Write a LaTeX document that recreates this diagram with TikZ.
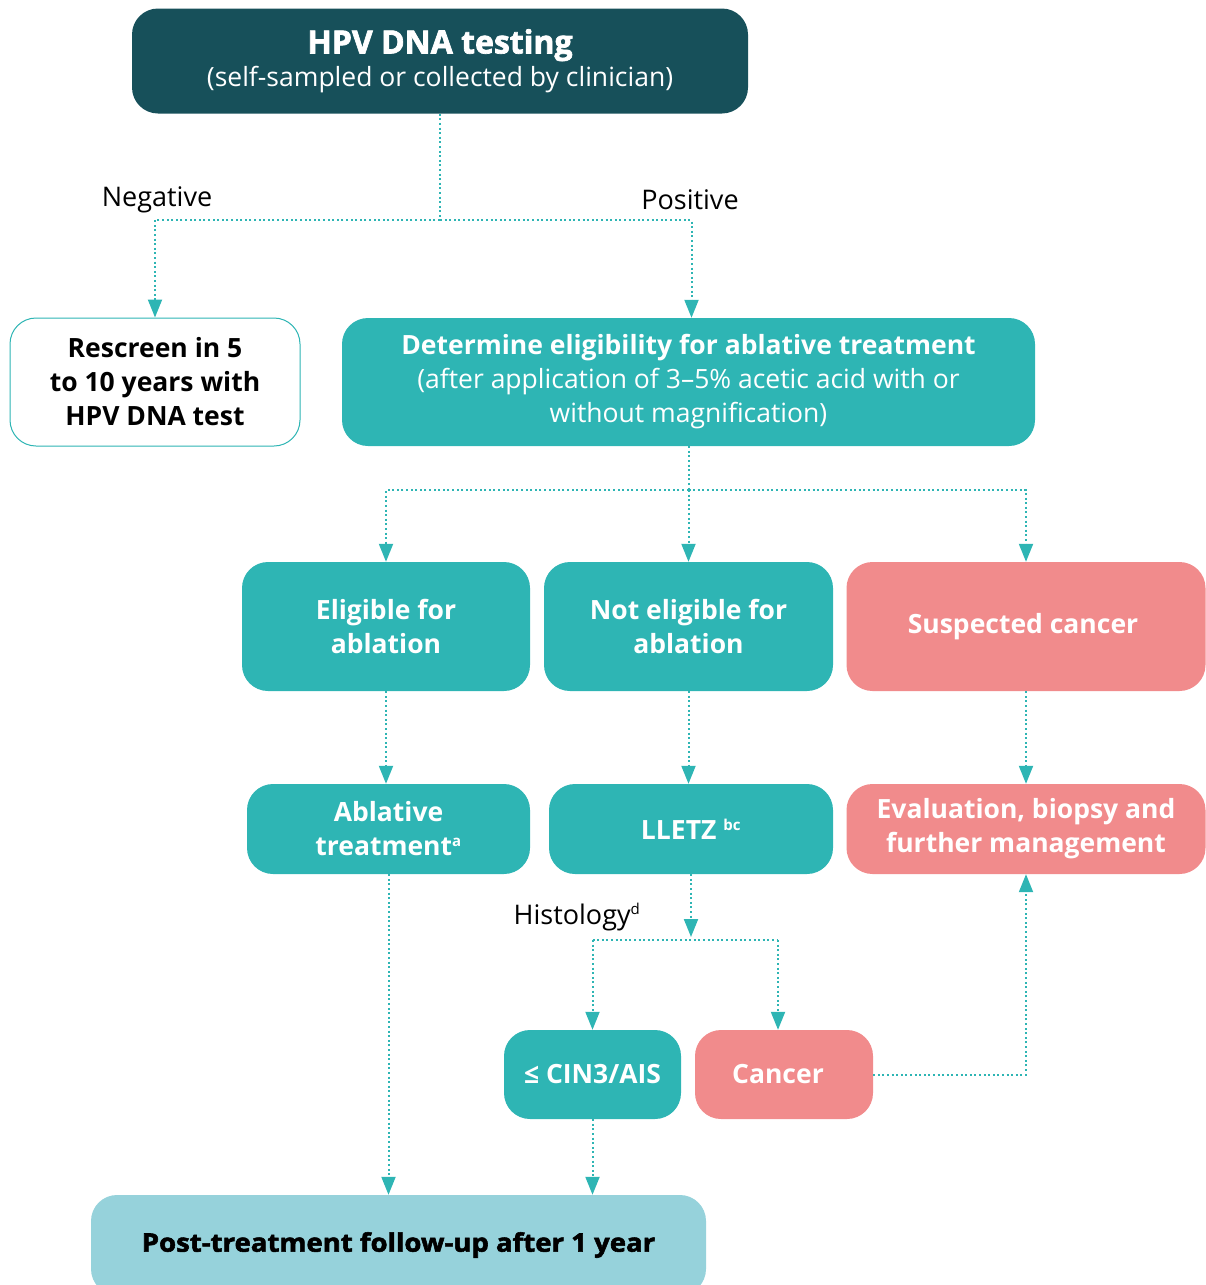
\documentclass[tikz,border=0pt]{standalone}
\usepackage{fontspec}
\setmainfont{Open Sans}
\newfontfamily\heavyfont[FakeBold=2.2]{Open Sans}
\newfontfamily\heavywide[FakeBold=2.2,FakeStretch=1.08]{Open Sans}
\usetikzlibrary{arrows.meta}
\definecolor{darkteal}{HTML}{17505A}
\definecolor{tealc}{HTML}{2EB5B4}
\definecolor{pinkc}{HTML}{F18B8C}
\definecolor{lightblue}{HTML}{96D2DB}
\begin{document}
\begin{tikzpicture}[x=1pt,y=-1pt,
  box/.style={rounded corners=26pt, inner sep=0pt, align=center, text=white,
    font=\fontsize{26.5}{34}\selectfont\bfseries},
  tbox/.style={box, fill=tealc},
  pbox/.style={box, fill=pinkc},
  conn/.style={draw=tealc, line width=2pt, dash pattern=on 2pt off 2.6pt},
  arr/.style={conn, -{Triangle[width=14pt,length=18pt]}},
  lbl/.style={inner sep=0pt, font=\fontsize{27}{30}\selectfont}]
\useasboundingbox (0,0) rectangle (1206,1285);
% boxes
\node[box, fill=darkteal, minimum width=616pt, minimum height=105pt] (top) at (440,61)
  {{\heavyfont\fontsize{32}{38}\selectfont\bfseries HPV DNA testing}\\[-1pt]
   {\fontsize{26.5}{30}\selectfont\mdseries (self-sampled or collected by clinician)}};
\node[box, fill=white, draw=tealc, line width=1pt, text=black, minimum width=290pt, minimum height=128pt] (rescreen) at (155,382)
  {Rescreen in 5\\to 10 years with\\HPV DNA test};
\node[tbox, minimum width=693pt, minimum height=128pt] (determine) at (688.5,382)
  {Determine eligibility for ablative treatment\\
   \mdseries(after application of 3--5\% acetic acid with or\\
   \mdseries without magnification)};
\node[tbox, minimum width=288pt, minimum height=129pt] (elig) at (386,626.5) {Eligible for\\ablation};
\node[tbox, minimum width=289pt, minimum height=129pt] (noelig) at (688.5,626.5) {Not eligible for\\ablation};
\node[pbox, minimum width=359pt, minimum height=129pt] (susp) at (1026,626.5) {Suspected cancer\hspace*{6pt}};
\node[tbox, minimum width=283pt, minimum height=90pt] (ablat) at (388.5,829)
  {Ablative\\treatment\textsuperscript{\fontsize{15}{15}\selectfont a}};
\node[tbox, minimum width=284pt, minimum height=90pt] (lletz) at (691,829)
  {LLETZ \textsuperscript{\fontsize{15}{15}\selectfont bc}};
\node[pbox, minimum width=359pt, minimum height=90pt] (eval) at (1026,829)
  {Evaluation, biopsy and\\further management};
\node[tbox, minimum width=177pt, minimum height=89pt] (cin) at (592.5,1074.5) {≤ CIN3/AIS};
\node[pbox, minimum width=178pt, minimum height=89pt] (canc) at (784,1074.5) {Cancer\hspace*{12pt}};
\node[box, fill=lightblue, text=black, minimum width=615pt, minimum height=100pt] (post) at (398.5,1245)
  {{\heavywide\fontsize{25.5}{30}\selectfont\bfseries Post-treatment follow-up after 1 year}};
% labels
\node[lbl] (neg) at (157,200) {Negative};
\node[lbl] (pos) at (690,200) {Positive};
\node[lbl] (hist) at (577,917) {Histology\textsuperscript{\fontsize{15}{15}\selectfont d}};
% junctions
\coordinate (j1) at (440,220);
\coordinate (j2) at (688.5,490);
\coordinate (j3) at (691,940);
% connectors
\draw[conn] (top.south) -- (j1);
\draw[arr] (j1) -| (rescreen.north);
\draw[arr] (j1) -| ([xshift=3pt]determine.north);
\draw[conn] (determine.south) -- (j2);
\draw[arr] (j2) -| (elig.north);
\draw[arr] (j2) -- (noelig.north);
\draw[arr] (j2) -| (susp.north);
\draw[arr] (elig.south) -- (elig.south |- ablat.north);
\draw[arr] (noelig.south) -- (noelig.south |- lletz.north);
\draw[arr] (susp.south) -- (eval.north);
\draw[arr] (lletz.south) -- ([yshift=3pt]j3);
\draw[conn] (cin.north |- j3) -- ([xshift=-6pt]canc.north |- j3);
\draw[arr] (cin.north |- j3) -- (cin.north);
\draw[arr] ([xshift=-6pt]canc.north |- j3) -- ([xshift=-6pt]canc.north);
\draw[arr] (canc.east) -| (eval.south);
\draw[arr] (ablat.south) -- (ablat.south |- post.north);
\draw[arr] (cin.south) -- (cin.south |- post.north);
\end{tikzpicture}
\end{document}
